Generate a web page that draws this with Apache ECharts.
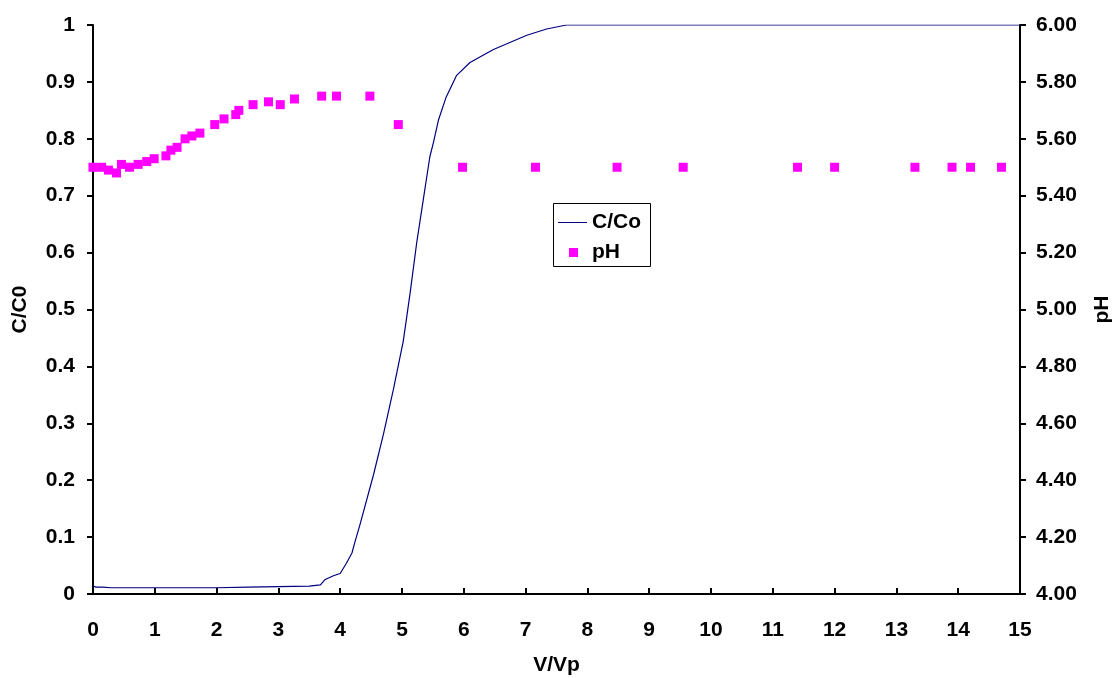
<!DOCTYPE html>
<html>
<head>
<meta charset="utf-8">
<script src="https://cdn.jsdelivr.net/npm/echarts@6/dist/echarts.min.js"></script>
<style>html,body{margin:0;padding:0;background:#fff;}#c{width:1115px;height:678px;}</style>
</head>
<body>
<div id="c"></div>
<script>
// C/Co breakthrough curve (V/Vp, C/Co)
var curveX = [0, 0.05, 0.15, 0.3, 1, 2, 2.5, 3, 3.5, 3.68, 3.75, 3.89, 4.0, 4.1, 4.19, 4.24, 4.32, 4.54, 4.70, 4.86, 5.02, 5.13, 5.24, 5.35, 5.45, 5.51, 5.59, 5.71, 5.88, 6.10, 6.48, 7.02, 7.34, 7.66, 7.93, 15];
var curveY = [0.014, 0.012, 0.012, 0.011, 0.011, 0.011, 0.012, 0.013, 0.014, 0.016, 0.025, 0.032, 0.036, 0.054, 0.072, 0.092, 0.122, 0.21, 0.281, 0.359, 0.444, 0.528, 0.619, 0.697, 0.768, 0.794, 0.833, 0.872, 0.911, 0.934, 0.957, 0.982, 0.993, 1.0, 1.0, 1.0];
// pH points (V/Vp, pH)
var phX = [0.0, 0.14, 0.25, 0.38, 0.46, 0.59, 0.73, 0.87, 0.99, 1.18, 1.26, 1.36, 1.49, 1.60, 1.73, 1.97, 2.12, 2.31, 2.36, 2.59, 2.84, 3.03, 3.26, 3.70, 3.94, 4.48, 4.94, 5.98, 7.16, 8.48, 9.55, 11.4, 12.0, 13.3, 13.9, 14.2, 14.7];
var phY = [5.50, 5.50, 5.49, 5.48, 5.51, 5.50, 5.51, 5.52, 5.53, 5.54, 5.56, 5.57, 5.60, 5.61, 5.62, 5.65, 5.67, 5.685, 5.70, 5.72, 5.73, 5.72, 5.74, 5.75, 5.75, 5.75, 5.65, 5.50, 5.50, 5.50, 5.50, 5.50, 5.50, 5.50, 5.50, 5.50, 5.50];
var seriesNames = ['C/Co', 'pH'];
var axisNames = {x: 'V/Vp', yLeft: 'C/C0', yRight: 'pH'};

var FONT = 'Liberation Sans, Arial, sans-serif';
var lab = {color: '#000', fontFamily: FONT, fontWeight: 'bold', fontSize: 21};
var curve = curveX.map(function (x, i) { return [x, curveY[i]]; });
var ph = phX.map(function (x, i) { return [x, phY[i]]; });

var chart = echarts.init(document.getElementById('c'), null, {renderer: 'canvas'});
chart.setOption({
  animation: false,
  backgroundColor: '#fff',
  grid: {left: 93, right: 95, top: 25, bottom: 84, containLabel: false, outerBoundsMode: 'none'},
  xAxis: {
    type: 'value', min: 0, max: 15, interval: 1,
    name: axisNames.x, nameLocation: 'middle', nameGap: 61,
    nameTextStyle: lab,
    axisLine: {show: true, onZero: false, lineStyle: {color: '#000', width: 2}},
    axisTick: {show: true, inside: true, length: 6, lineStyle: {color: '#000', width: 2}},
    axisLabel: Object.assign({margin: 26}, lab),
    splitLine: {show: false}
  },
  yAxis: [{
    type: 'value', min: 0, max: 1, interval: 0.1, position: 'left',
    name: axisNames.yLeft, nameLocation: 'middle', nameGap: 62,
    nameTextStyle: lab,
    axisLine: {show: true, onZero: false, lineStyle: {color: '#000', width: 2}},
    axisTick: {show: true, inside: false, length: 6, lineStyle: {color: '#000', width: 2}},
    axisLabel: Object.assign({margin: 18, formatter: function (v) { return String(Math.round(v * 10) / 10); }}, lab),
    splitLine: {show: false}
  }, {
    type: 'value', min: 4, max: 6, interval: 0.2, position: 'right',
    name: axisNames.yRight, nameLocation: 'middle', nameGap: 72,
    nameTextStyle: lab,
    axisLine: {show: true, onZero: false, lineStyle: {color: '#000', width: 2}},
    axisTick: {show: true, inside: false, length: 6, lineStyle: {color: '#000', width: 2}},
    axisLabel: Object.assign({margin: 16, formatter: function (v) { return v.toFixed(2); }}, lab),
    splitLine: {show: false}
  }],
  graphic: [{
    type: 'rect', left: 553, top: 203, z: 100,
    shape: {width: 97, height: 63},
    style: {fill: '#fff', stroke: '#000', lineWidth: 1}
  }],
  legend: [{
    data: [{name: seriesNames[0], icon: 'path://M0,0H29V1H0Z'}], left: 558, top: 212, padding: 0, z: 200,
    itemWidth: 29, itemHeight: 1.3, itemGap: 4,
    itemStyle: {color: '#000080', borderWidth: 0},
    textStyle: Object.assign({}, lab, {fontSize: 21, padding: [0, 0, 0, 0]})
  }, {
    data: [seriesNames[1]], left: 569, top: 242, padding: 0, z: 200,
    itemWidth: 9, itemHeight: 9,
    textStyle: Object.assign({}, lab, {fontSize: 21, padding: [0, 0, 0, 9]})
  }],
  series: [{
    name: seriesNames[0], type: 'line', data: curve, xAxisIndex: 0, yAxisIndex: 0,
    showSymbol: false, symbol: 'none', smooth: false,
    lineStyle: {color: '#000080', width: 1.2}, itemStyle: {color: '#000080'}, z: 3
  }, {
    name: seriesNames[1], type: 'scatter', data: ph, xAxisIndex: 0, yAxisIndex: 1,
    symbol: 'rect', symbolSize: 9,
    itemStyle: {color: '#ff00ff', opacity: 1}, z: 4
  }]
});
</script>
</body>
</html>
